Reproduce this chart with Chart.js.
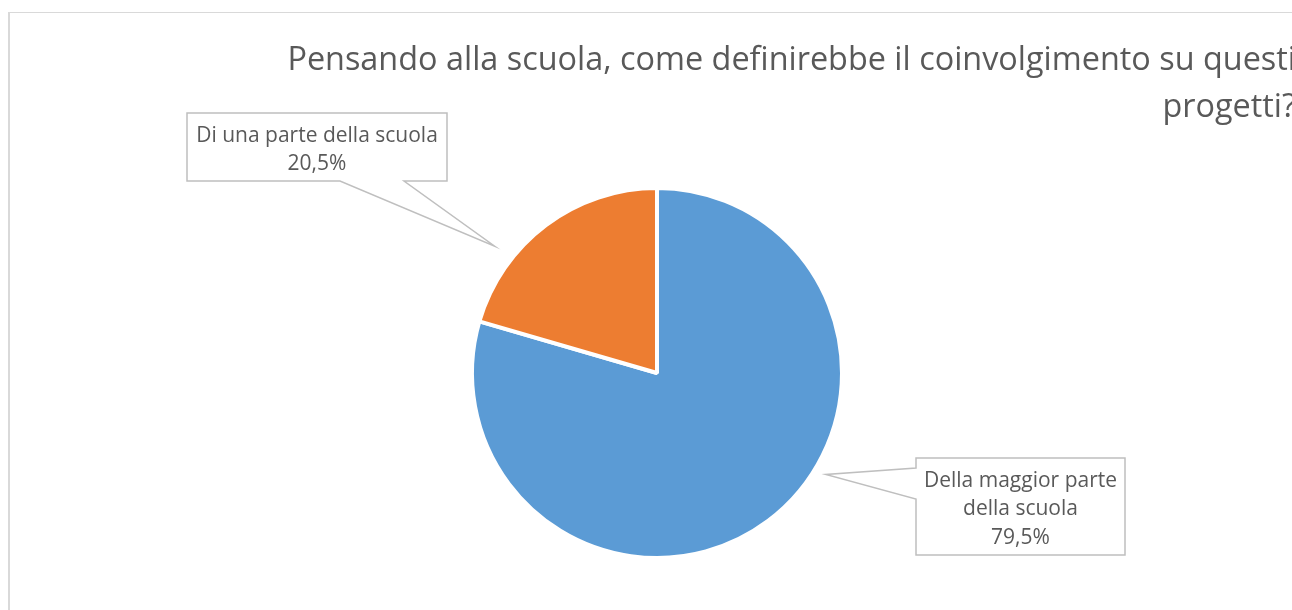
<!DOCTYPE html>
<html>
<head>
<meta charset="utf-8">
<script src="https://cdn.jsdelivr.net/npm/chart.js"></script>
<style>
  html, body { margin: 0; padding: 0; background: #fff; overflow: hidden; }
  #frame { position: absolute; left: 8px; top: 12px; border-left: 2px solid #d9d9d9; border-top: 1px solid #d9d9d9; }
  #myChart { display: block; width: 1320px; height: 612px; }
</style>
</head>
<body>
<div id="frame"><canvas id="myChart" width="1320" height="612"></canvas></div>
<script>
// DATA ----------------------------------------
const categories = ['Della maggior parte della scuola', 'Di una parte della scuola'];
const values = [79.5, 20.5];          // percentuali
const colors = ['#5b9bd5', '#ed7d31'];
const titleLines = ['Pensando alla scuola, come definirebbe il coinvolgimento su questi', 'progetti?'];

// callout boxes (offset from pie center), pointer angle from 12 o'clock
const callouts = [
    {dx: 259, dy: 85, w: 209, h: 97, side: 'left', gap: [10, 41], angle: 121, dist: 12, wrap: 205},
    {dx: -470, dy: -260, w: 260, h: 68, side: 'bottom', gap: [153, 217], angle: 308, dist: 21, wrap: 255}
];

const textColor = '#595959';
const labelFont = '21px "Open Sans"';

function wrapText(c, text, maxWidth) {
    const words = text.split(' ');
    const lines = [];
    let line = '';
    for (const w of words) {
        const test = line ? line + ' ' + w : w;
        if (line && c.measureText(test).width > maxWidth) {
            lines.push(line);
            line = w;
        } else {
            line = test;
        }
    }
    if (line) lines.push(line);
    return lines;
}

function percentText(v) {
    return v.toFixed(1).replace('.', ',') + '%';
}

// draws the data labels in boxes with a pointer
const calloutPlugin = {
    id: 'callouts',
    afterDatasetsDraw(chart) {
        const c = chart.ctx;
        const arcs = chart.getDatasetMeta(0).data;
        c.save();
        c.font = labelFont;
        arcs.forEach((arc, i) => {
            const p = callouts[i];
            const x = arc.x + p.dx, y = arc.y + p.dy;
            const a = p.angle * Math.PI / 180;
            const r = arc.outerRadius + p.dist;
            const tx = arc.x + r * Math.sin(a), ty = arc.y - r * Math.cos(a);

            c.beginPath();
            c.moveTo(x, y);
            c.lineTo(x + p.w, y);
            c.lineTo(x + p.w, y + p.h);
            if (p.side === 'bottom') {
                c.lineTo(x + p.gap[1], y + p.h);
                c.lineTo(tx, ty);
                c.lineTo(x + p.gap[0], y + p.h);
                c.lineTo(x, y + p.h);
            } else {
                c.lineTo(x, y + p.h);
                c.lineTo(x, y + p.gap[1]);
                c.lineTo(tx, ty);
                c.lineTo(x, y + p.gap[0]);
            }
            c.closePath();
            c.fillStyle = '#fff';
            c.fill();
            c.strokeStyle = '#bfbfbf';
            c.lineWidth = 1.5;
            c.stroke();

            const lines = wrapText(c, categories[i], p.wrap);
            lines.push(percentText(values[i]));
            const lh = 28.5;
            c.fillStyle = textColor;
            c.textAlign = 'center';
            c.textBaseline = 'middle';
            const top = y + p.h / 2 + 3 - (lines.length - 1) * lh / 2;
            lines.forEach((t, k) => c.fillText(t, x + p.w / 2, top + k * lh));
        });
        c.restore();
    }
};

const ctx = document.getElementById('myChart');
const chart = new Chart(ctx, {
    type: 'pie',
    data: {
        labels: categories,
        datasets: [{
            data: values,
            backgroundColor: colors,
            borderColor: '#ffffff',
            borderWidth: 4,
            radius: 185
        }]
    },
    options: {
        responsive: false,
        animation: false,
        layout: {
            padding: {left: 8, right: 34, top: 0, bottom: 10}
        },
        plugins: {
            legend: {display: false},
            tooltip: {enabled: false},
            title: {
                display: true,
                text: titleLines,
                align: 'end',
                color: textColor,
                font: {family: '"Open Sans"', size: 32.4, weight: 'normal', lineHeight: '47px'},
                padding: {top: 24, bottom: 0}
            }
        }
    },
    plugins: [calloutPlugin]
});
</script>
</body>
</html>
